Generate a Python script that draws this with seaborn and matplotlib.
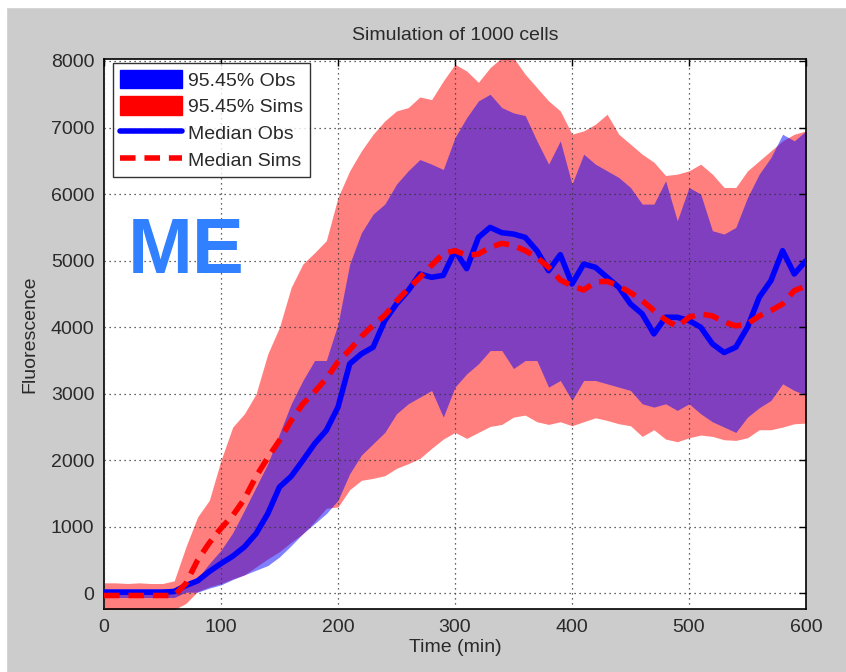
import matplotlib
matplotlib.use("Agg")
import matplotlib.pyplot as plt
from matplotlib.patches import Patch, Rectangle
from matplotlib.lines import Line2D
import numpy as np
import pandas as pd
import seaborn as sns

# ===========================
# DATA
# ===========================

time_min = list(range(0, 601, 10))

sims_lo = [-240, -240, -240, -240, -240, -240, -240, -150, 30, 100,
           150, 220, 280, 400, 520, 630, 770, 900, 1080, 1280,
           1300, 1560, 1700, 1730, 1770, 1880, 1950, 2030, 2180, 2320,
           2420, 2330, 2420, 2510, 2540, 2650, 2680, 2580, 2540, 2580,
           2520, 2580, 2640, 2600, 2550, 2520, 2360, 2460, 2320, 2280,
           2340, 2380, 2360, 2310, 2300, 2340, 2460, 2460, 2500, 2550,
           2560]
sims_hi = [160, 160, 150, 160, 150, 150, 190, 700, 1150, 1400,
           2000, 2500, 2700, 3000, 3600, 4000, 4600, 4950, 5120, 5300,
           5950, 6350, 6650, 6900, 7100, 7250, 7300, 7460, 7420, 7700,
           7950, 7850, 7680, 7900, 8050, 8050, 7800, 7600, 7400, 7250,
           6900, 6950, 7050, 7200, 6900, 6750, 6600, 6480, 6280, 6300,
           6350, 6450, 6300, 6100, 6100, 6350, 6500, 6650, 6800, 6900,
           6950]
obs_lo = [-60, -60, -60, -60, -60, -60, -60, 20, 20, 80,
          130, 210, 280, 350, 420, 550, 720, 900, 1050, 1200,
          1400, 1800, 2080, 2250, 2420, 2700, 2850, 2950, 3050, 2650,
          3100, 3300, 3450, 3650, 3650, 3380, 3500, 3500, 3100, 3200,
          2900, 3200, 3200, 3150, 3100, 3050, 2850, 2800, 2850, 2750,
          2850, 2700, 2580, 2500, 2420, 2650, 2790, 2900, 3150, 3050,
          2980]
obs_hi = [70, 70, 70, 70, 70, 70, 80, 120, 230, 450,
          650, 910, 1250, 1600, 1950, 2400, 2850, 3200, 3500, 3500,
          4050, 4950, 5420, 5700, 5850, 6150, 6350, 6520, 6450, 6370,
          6850, 7150, 7400, 7500, 7300, 7220, 7180, 6800, 6450, 6800,
          6150, 6600, 6450, 6350, 6250, 6100, 5850, 5850, 6200, 5600,
          6100, 6000, 5450, 5400, 5500, 5950, 6300, 6550, 6900, 6800,
          6950]
obs_median = [20, 20, 20, 20, 20, 20, 30, 120, 190, 330,
              450, 560, 700, 900, 1200, 1600, 1760, 2000, 2250, 2450,
              2800, 3450, 3600, 3700, 4100, 4350, 4550, 4800, 4750, 4780,
              5150, 4880, 5350, 5500, 5420, 5400, 5350, 5150, 4850, 5090,
              4650, 4950, 4900, 4750, 4600, 4350, 4200, 3900, 4150, 4150,
              4100, 4000, 3750, 3620, 3700, 4000, 4450, 4700, 5150, 4800,
              5000]
sims_median = [-30, -30, -30, -30, -30, -30, -30, 150, 500, 760,
               980, 1170, 1420, 1760, 2040, 2300, 2600, 2850, 3030, 3230,
               3480, 3660, 3860, 4030, 4180, 4390, 4580, 4750, 4930, 5110,
               5150, 5080, 5100, 5200, 5260, 5230, 5150, 5050, 4900, 4710,
               4620, 4560, 4680, 4690, 4620, 4520, 4400, 4250, 4110, 4010,
               4150, 4200, 4170, 4080, 4020, 4050, 4170, 4250, 4350, 4550,
               4620]

x_ticks = [0, 100, 200, 300, 400, 500, 600]
y_ticks = [0, 1000, 2000, 3000, 4000, 5000, 6000, 7000, 8000]

BG = "#cccccc"
TXT = "#2a2a2a"

# ===========================
# PLOT
# ===========================

sns.set_theme(style="white")
plt.rcParams["font.family"] = ["Liberation Sans", "DejaVu Sans"]

df = pd.DataFrame({
    "time": time_min,
    "obs_median": obs_median,
    "sims_median": sims_median,
})

fig = plt.figure(figsize=(8.46, 6.72), dpi=100, facecolor=BG)
fig.patches.append(Rectangle((0, 1 - 7 / 672), 1, 7 / 672, transform=fig.transFigure,
                             color="white", zorder=0))
fig.patches.append(Rectangle((0, 0), 6 / 846, 1, transform=fig.transFigure,
                             color="white", zorder=0))

ax = fig.add_axes([104 / 846, 63 / 672, 702 / 846, 550 / 672])
ax.set_facecolor("white")

# bands: sims first, obs on top (gives the purple overlap)
ax.fill_between(time_min, sims_lo, sims_hi, color="red", alpha=0.5, linewidth=0, zorder=1)
ax.fill_between(time_min, obs_lo, obs_hi, color="blue", alpha=0.5, linewidth=0, zorder=1.1)

sns.lineplot(data=df, x="time", y="obs_median", ax=ax, color="blue",
             linewidth=4, zorder=3)
sns.lineplot(data=df, x="time", y="sims_median", ax=ax, color="red",
             linewidth=4, dashes=False, zorder=3.1)
ax.lines[-1].set_dashes((2.8, 1.6))

ax.set_xlim(0, 600)
ax.set_ylim(-233, 8030)
ax.set_xticks(x_ticks)
ax.set_yticks(y_ticks)

ax.set_axisbelow(False)
ax.grid(True, color="#333333", linestyle=(0, (1, 3)), linewidth=0.9, zorder=2.5)

ax.tick_params(direction="in", length=5, width=1, top=True, right=True,
               labelsize=14, colors="black", labelcolor=TXT, pad=7)
for s in ax.spines.values():
    s.set_color("black")
    s.set_linewidth(1.2)
    s.set_visible(True)

ax.set_title("Simulation of 1000 cells", fontsize=14, color=TXT, pad=14)
ax.set_xlabel("Time (min)", fontsize=14, color=TXT, labelpad=2)
ax.set_ylabel("Fluorescence", fontsize=14, color=TXT, labelpad=9)

handles = [
    Patch(facecolor="blue", edgecolor="blue"),
    Patch(facecolor="red", edgecolor="red"),
    Line2D([0], [0], color="blue", linewidth=4),
    Line2D([0], [0], color="red", linewidth=4, dashes=(2.8, 1.6)),
]
labels = ["95.45% Obs", "95.45% Sims", "Median Obs", "Median Sims"]
leg = ax.legend(handles, labels, loc="upper left", bbox_to_anchor=(0.013, 0.993),
                borderaxespad=0, fontsize=14, frameon=True, fancybox=False,
                handlelength=3.2, handleheight=1.1, handletextpad=0.3,
                labelspacing=0.35, borderpad=0.35)
leg.get_frame().set_edgecolor("black")
leg.get_frame().set_linewidth(1.0)
for t in leg.get_texts():
    t.set_color(TXT)

ax.text(0.117, 0.649, "ME", transform=ax.transAxes, ha="center", va="center",
        fontsize=56, fontweight="bold", color="#3080ff", zorder=5)

fig.savefig("out.png", dpi=100, facecolor=BG)
